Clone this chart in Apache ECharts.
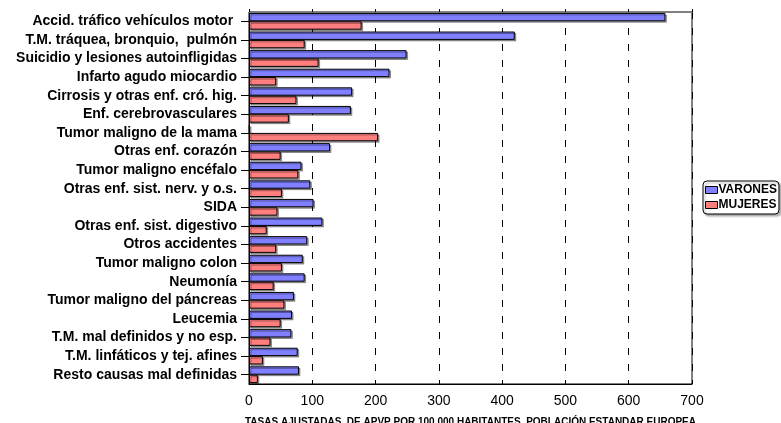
<!DOCTYPE html>
<html>
<head>
<meta charset="utf-8">
<script src="https://cdn.jsdelivr.net/npm/echarts@6/dist/echarts.min.js"></script>
<style>
  html, body { margin: 0; padding: 0; background: #fff; }
  #chart { width: 781px; height: 423px; }
</style>
</head>
<body>
<div id="chart"></div>
<script>
// Causas de muerte ordenadas por años potenciales de vida perdidos
const categories = [
  'Accid. tráfico vehículos motor ',
  'T.M. tráquea, bronquio,  pulmón',
  'Suicidio y lesiones autoinfligidas',
  'Infarto agudo miocardio',
  'Cirrosis y otras enf. cró. hig.',
  'Enf. cerebrovasculares',
  'Tumor maligno de la mama',
  'Otras enf. corazón',
  'Tumor maligno encéfalo',
  'Otras enf. sist. nerv. y o.s.',
  'SIDA',
  'Otras enf. sist. digestivo',
  'Otros accidentes',
  'Tumor maligno colon',
  'Neumonía',
  'Tumor maligno del páncreas',
  'Leucemia',
  'T.M. mal definidos y no esp.',
  'T.M. linfáticos y tej. afines',
  'Resto causas mal definidas'
];
const varones = [658, 420, 249, 222, 163, 161, 1, 128, 83, 97, 102, 116, 92, 85, 88, 71, 68, 67, 77, 79];
const mujeres = [178, 88, 110, 43, 75, 63, 204, 50, 78, 52, 45, 28, 43, 52, 39, 56, 50, 34, 22, 14];
const xTicks = { min: 0, max: 700, interval: 100 };
const axisTitle = 'TASAS AJUSTADAS  DE APVP POR 100.000 HABITANTES. POBLACIÓN ESTANDAR EUROPEA';

const FONT = '"Liberation Sans", Arial, sans-serif';
const chart = echarts.init(document.getElementById('chart'), null, { renderer: 'canvas' });

const barStyle = (color) => ({
  color: color,
  borderColor: '#000',
  borderWidth: 1,
  shadowColor: 'rgba(0,0,0,0.35)',
  shadowOffsetX: 1.5,
  shadowOffsetY: 1.5,
  shadowBlur: 0
});

chart.setOption({
  animation: false,
  backgroundColor: '#fff',
  grid: {
    left: 249, right: 89, top: 12, bottom: 39,
    outerBoundsMode: 'none', containLabel: false,
    show: true, borderColor: '#000', borderWidth: 1
  },
  legend: {
    left: 703, top: 181,
    orient: 'vertical',
    itemWidth: 12, itemHeight: 7, itemGap: 3,
    padding: [3, 2, 3, 2],
    icon: 'rect',
    backgroundColor: '#fff',
    borderColor: '#000', borderWidth: 1, borderRadius: 4,
    shadowColor: 'rgba(0,0,0,0.3)', shadowOffsetX: 2, shadowOffsetY: 2, shadowBlur: 2,
    itemStyle: { borderColor: '#000', borderWidth: 1 },
    textStyle: { fontFamily: FONT, fontWeight: 'bold', fontSize: 12, color: '#000', padding: [0, 0, 0, -4] },
    data: ['VARONES', 'MUJERES']
  },
  xAxis: [{
    type: 'value',
    position: 'bottom',
    min: xTicks.min, max: xTicks.max, interval: xTicks.interval,
    axisLine: { show: true, lineStyle: { color: '#000', width: 1 } },
    axisTick: { show: false },
    axisLabel: { fontFamily: FONT, fontSize: 14, color: '#000', margin: 10 },
    splitLine: { show: true, lineStyle: { color: '#000', width: 1, type: [7, 9] } },
    name: axisTitle,
    nameLocation: 'middle',
    nameGap: 33,
    nameTextStyle: { fontFamily: FONT, fontWeight: 'bold', fontSize: 10, color: '#000' }
  }, {
    type: 'value',
    position: 'top',
    min: xTicks.min, max: xTicks.max, interval: xTicks.interval,
    axisLine: { show: true, lineStyle: { color: '#808080', width: 1 } },
    axisTick: { show: true, inside: false, length: 3, lineStyle: { color: '#000' } },
    axisLabel: { show: false },
    splitLine: { show: false }
  }],
  yAxis: {
    type: 'category',
    inverse: true,
    data: categories,
    axisLine: { show: true, lineStyle: { color: '#000', width: 1 } },
    axisTick: { show: true, alignWithLabel: true, length: 8, lineStyle: { color: '#000' } },
    axisLabel: { fontFamily: FONT, fontWeight: 'bold', fontSize: 14, color: '#000', margin: 12, interval: 0 }
  },
  series: [{
    name: 'VARONES', type: 'bar', xAxisIndex: 0,
    data: varones,
    barGap: '0%', barCategoryGap: '10%',
    itemStyle: barStyle('#7f7fff')
  }, {
    name: 'MUJERES', type: 'bar', xAxisIndex: 0,
    data: mujeres,
    barGap: '0%', barCategoryGap: '10%',
    itemStyle: barStyle('#ff7f7f')
  }]
});
</script>
</body>
</html>
